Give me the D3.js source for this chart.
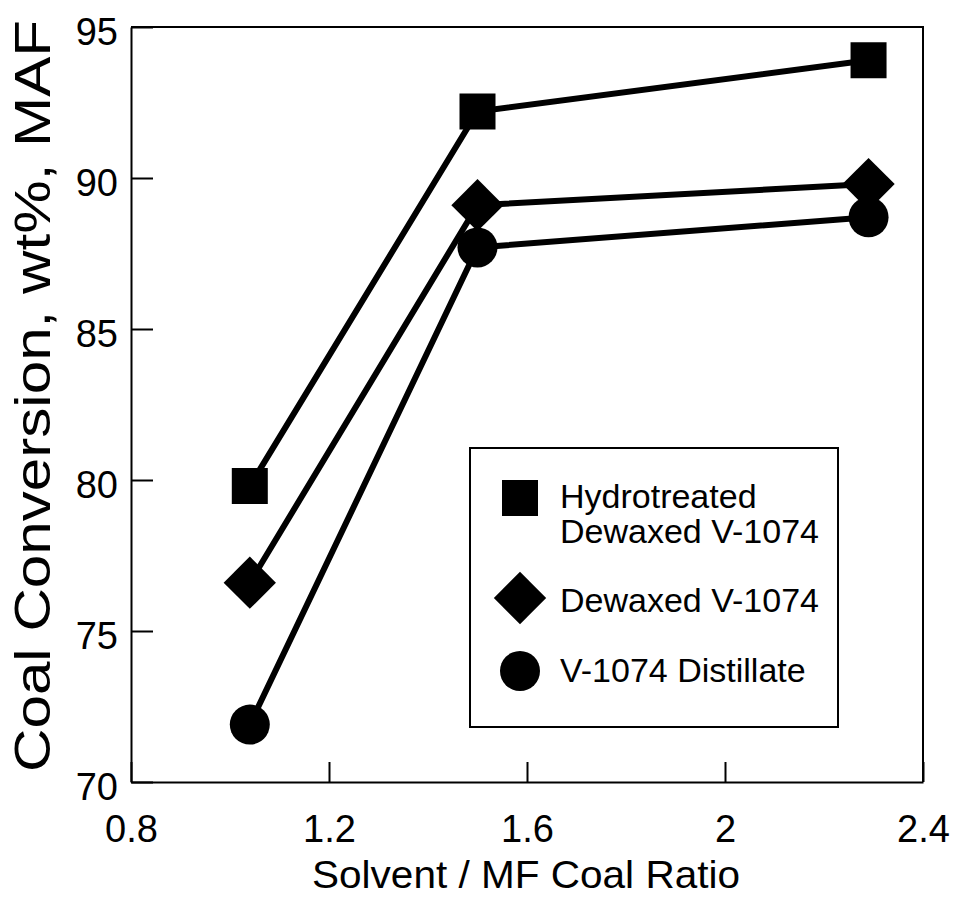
<!DOCTYPE html>
<html>
<head>
<meta charset="utf-8">
<script src="https://cdn.jsdelivr.net/npm/d3@7"></script>
<style>
    body { margin: 0; background: #fff; }
    text { font-family: "Liberation Sans", Arial, sans-serif; fill: #000; }
</style>
</head>
<body>
<svg id="chart"></svg>
<script>
// Data
const ratios = [1.04, 1.5, 2.29];
const hydrotreatedDewaxed = [79.8, 92.2, 93.9];
const dewaxed = [76.6, 89.1, 89.8];
const distillate = [71.9, 87.7, 88.7];
const seriesNames = [["Hydrotreated", "Dewaxed V-1074"], ["Dewaxed V-1074"], ["V-1074 Distillate"]];
const seriesShapes = ["square", "diamond", "circle"];
const xTicks = [0.8, 1.2, 1.6, 2, 2.4];
const yTicks = [70, 75, 80, 85, 90, 95];

const series = [hydrotreatedDewaxed, dewaxed, distillate].map((vals, i) => ({
    name: seriesNames[i],
    shape: seriesShapes[i],
    points: vals.map((v, j) => ({ x: ratios[j], y: v }))
}));

// Plot area
const width = 957, height = 901;
const plot = { left: 131, right: 923, top: 27, bottom: 782 };

const svg = d3.select("#chart")
    .attr("width", width)
    .attr("height", height);

const xScale = d3.scaleLinear().domain([0.8, 2.4]).range([plot.left, plot.right]);
const yScale = d3.scaleLinear().domain([70, 95]).range([plot.bottom, plot.top]);

// Symbol generators
const symbolFor = {
    square: d3.symbol().type(d3.symbolSquare).size(36 * 36),
    diamond: d3.symbol().type(d3.symbolSquare).size(37 * 37),
    circle: d3.symbol().type(d3.symbolCircle).size(Math.PI * 20 * 20)
};
const rotateFor = { square: 0, diamond: 45, circle: 0 };

// Frame (top and right)
svg.append("path")
    .attr("d", `M${plot.left},${plot.top}H${plot.right}V${plot.bottom}`)
    .attr("fill", "none")
    .attr("stroke", "#000")
    .attr("stroke-width", 2);

// X axis, ticks point inward
const xAxis = svg.append("g")
    .attr("transform", "translate(0," + plot.bottom + ")")
    .call(d3.axisBottom(xScale)
        .tickValues(xTicks)
        .tickFormat(d => String(d))
        .tickSizeInner(-20)
        .tickSizeOuter(0)
        .tickPadding(33));

// Y axis, ticks point inward
const yAxis = svg.append("g")
    .attr("transform", "translate(" + plot.left + ",0)")
    .call(d3.axisLeft(yScale)
        .tickValues(yTicks)
        .tickSizeInner(-22)
        .tickSizeOuter(0)
        .tickPadding(13));

[xAxis, yAxis].forEach(g => {
    g.select(".domain").attr("stroke", "#000").attr("stroke-width", 2);
    g.selectAll(".tick line").attr("stroke", "#000").attr("stroke-width", 2);
    g.selectAll(".tick text")
        .attr("font-family", "'Liberation Sans', Arial, sans-serif")
        .attr("font-size", 38);
});
yAxis.selectAll(".tick text").attr("dy", "0.45em");

// Lines
const line = d3.line().x(d => xScale(d.x)).y(d => yScale(d.y));

svg.selectAll(".series-line")
    .data(series)
    .enter().append("path")
    .attr("class", "series-line")
    .attr("d", d => line(d.points))
    .attr("fill", "none")
    .attr("stroke", "#000")
    .attr("stroke-width", 6);

// Markers
series.forEach(s => {
    svg.selectAll(".pt-" + s.shape)
        .data(s.points)
        .enter().append("path")
        .attr("class", "pt-" + s.shape)
        .attr("d", symbolFor[s.shape])
        .attr("transform", d => `translate(${xScale(d.x)},${yScale(d.y)}) rotate(${rotateFor[s.shape]})`)
        .attr("fill", "#000");
});

// Legend
const legend = svg.append("g");
legend.append("rect")
    .attr("x", 470)
    .attr("y", 448)
    .attr("width", 368)
    .attr("height", 279)
    .attr("fill", "#fff")
    .attr("stroke", "#000")
    .attr("stroke-width", 2);

const legendRows = [
    { cy: 498, textY: 508 },
    { cy: 598, textY: 612 },
    { cy: 671, textY: 682 }
];

series.forEach((s, i) => {
    const row = legendRows[i];
    legend.append("path")
        .attr("d", symbolFor[s.shape])
        .attr("transform", `translate(520,${row.cy}) rotate(${rotateFor[s.shape]})`)
        .attr("fill", "#000");
    const label = legend.append("text")
        .attr("x", 560)
        .attr("y", row.textY)
        .attr("font-size", 34);
    s.name.forEach((t, k) => {
        label.append("tspan")
            .attr("x", 560)
            .attr("dy", k === 0 ? 0 : 35)
            .text(t);
    });
});

// Axis titles
svg.append("text")
    .attr("x", 526)
    .attr("y", 888)
    .attr("text-anchor", "middle")
    .attr("font-size", 39)
    .attr("textLength", 428)
    .attr("lengthAdjust", "spacingAndGlyphs")
    .text("Solvent / MF Coal Ratio");

svg.append("text")
    .attr("transform", "translate(50,396) rotate(-90)")
    .attr("text-anchor", "middle")
    .attr("font-size", 50)
    .attr("textLength", 752)
    .attr("lengthAdjust", "spacingAndGlyphs")
    .text("Coal Conversion, wt%, MAF");
</script>
</body>
</html>
